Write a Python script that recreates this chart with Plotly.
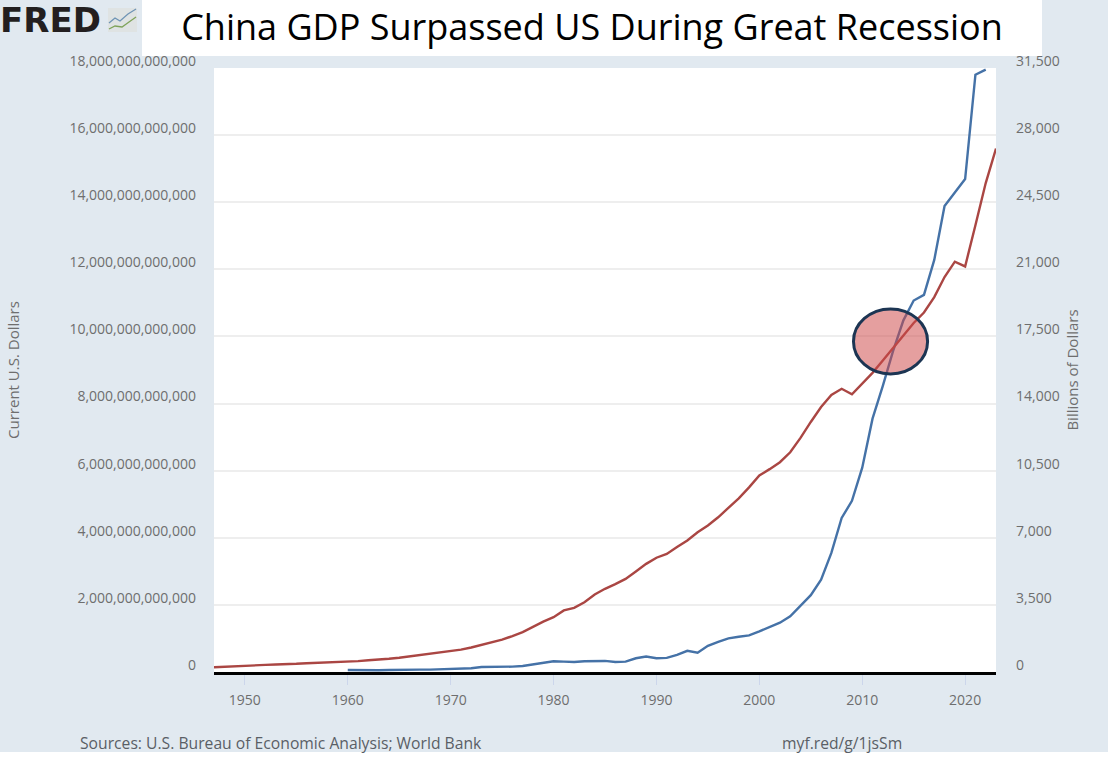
import plotly.graph_objects as go

# US GDP, billions of dollars, right axis
us_years = list(range(1947, 2024))
us_gdp = [
    250, 270, 270, 300, 350, 370, 395, 395, 430, 460,
    480, 490, 530, 545, 565, 610, 640, 690, 745, 815,
    860, 940, 1020, 1075, 1165, 1280, 1425, 1545, 1685, 1875,
    2080, 2350, 2630, 2860, 3210, 3345, 3640, 4040, 4340, 4580,
    4855, 5240, 5640, 5960, 6160, 6520, 6860, 7290, 7640, 8070,
    8580, 9060, 9630, 10250, 10580, 10940, 11460, 12210, 13040, 13820,
    14450, 14770, 14480, 15050, 15600, 16250, 16880, 17550, 18200, 18750,
    19550, 20600, 21400, 21150, 23300, 25500, 27300,
]

# China GDP, current US dollars (trillions here), left axis
china_years = list(range(1960, 2023))
china_gdp = [
    0.06, 0.05, 0.05, 0.05, 0.06, 0.07, 0.08, 0.07, 0.07, 0.08,
    0.09, 0.10, 0.11, 0.15, 0.15, 0.16, 0.16, 0.18, 0.23, 0.28,
    0.32, 0.31, 0.30, 0.32, 0.33, 0.33, 0.30, 0.31, 0.41, 0.46,
    0.41, 0.42, 0.51, 0.63, 0.575, 0.78, 0.90, 1.00, 1.05, 1.09,
    1.21, 1.34, 1.47, 1.66, 1.96, 2.29, 2.75, 3.55, 4.59, 5.10,
    6.09, 7.55, 8.53, 9.57, 10.48, 11.07, 11.24, 12.28, 13.89, 14.28,
    14.69, 17.80, 17.95,
]

left_ticks = [0, 2e12, 4e12, 6e12, 8e12, 10e12, 12e12, 14e12, 16e12, 18e12]
right_ticks = [0, 3500, 7000, 10500, 14000, 17500, 21000, 24500, 28000, 31500]
year_ticks = [1950, 1960, 1970, 1980, 1990, 2000, 2010, 2020]

W, H = 1108, 762
L, R, T, B = 214, 996, 68, 672
BG = "#e1e9f0"
GREY = "#6e6e6e"
FONT = "Open Sans"


def px(x):
    return (x - L) / (R - L)


def py(y):
    return (B - y) / (B - T)


def box(x0, y0, x1, y1, color):
    return dict(type="rect", xref="paper", yref="paper", x0=px(x0), x1=px(x1), y0=py(y0), y1=py(y1),
                fillcolor=color, line_width=0, layer="below")


def zigzag(points):
    return "M " + " L ".join(f"{px(a):.4f},{py(b):.4f}" for a, b in points)


fig = go.Figure()
fig.add_trace(go.Scatter(x=china_years, y=[v * 1e12 for v in china_gdp], mode="lines", yaxis="y",
                         line=dict(color="#4572a7", width=2.4), showlegend=False))
fig.add_trace(go.Scatter(x=us_years, y=us_gdp, mode="lines", yaxis="y2",
                         line=dict(color="#aa4643", width=2.4), showlegend=False))

shapes = [
    box(142, 0, 1042, 56, "white"),
    box(0, 752, W, H, "white"),
    # small logo icon
    box(108, 8, 137, 32, "#dfe3e3"),
    dict(type="path", xref="paper", yref="paper", path=zigzag([(109, 23), (115, 18), (120, 21), (128, 14), (136, 9)]),
         line=dict(color="#6f94b5", width=1.3)),
    dict(type="path", xref="paper", yref="paper", path=zigzag([(109, 29), (115, 26), (122, 27), (129, 22), (136, 17)]),
         line=dict(color="#7fa35a", width=1.3)),
    # highlight around the crossing
    dict(type="circle", xref="x", yref="y", x0=2009.15, x1=2016.35, y0=8.88e12, y1=10.82e12,
         fillcolor="rgba(205,70,70,0.52)", line=dict(color="#1c3553", width=3), layer="above"),
]

annotations = [
    dict(text="<b>FRED</b>", xref="paper", yref="paper", x=px(-2), y=py(20), xanchor="left", yanchor="middle",
         showarrow=False, font=dict(family="DejaVu Sans", size=34, color="#231f20")),
    dict(text="Sources: U.S. Bureau of Economic Analysis; World Bank", xref="paper", yref="paper",
         x=px(78), y=py(743), xanchor="left", yanchor="middle", showarrow=False,
         font=dict(family=FONT, size=15.7, color="#5a5f66")),
    dict(text="myf.red/g/1jsSm", xref="paper", yref="paper", x=px(780), y=py(743), xanchor="left",
         yanchor="middle", showarrow=False, font=dict(family=FONT, size=15.7, color="#5a5f66")),
]

fig.update_layout(
    width=W,
    height=H,
    margin=dict(l=L, r=W - R, t=T, b=H - B, autoexpand=False),
    paper_bgcolor=BG,
    plot_bgcolor="white",
    font=dict(family=FONT, size=13, color=GREY),
    title=dict(text="China GDP Surpassed US During Great Recession", xref="container", yref="container", x=592 / W,
               xanchor="center", y=1 - 27 / H, yanchor="middle", font=dict(family=FONT, size=36, color="#000000")),
    shapes=shapes,
    annotations=annotations,
    showlegend=False,
    xaxis=dict(range=[1947, 2023], tickvals=year_ticks, ticks="outside", ticklen=10, tickwidth=1,
               tickcolor="#ccd6eb", showgrid=False, showline=True, linecolor="black", linewidth=3,
               zeroline=False, ticklabelstandoff=3, tickfont=dict(size=14, color=GREY)),
    yaxis=dict(range=[0, 18e12], tickvals=left_ticks, tickformat=",d", showgrid=True, gridcolor="#eeeeee",
               gridwidth=2, zeroline=False, ticklabelshift=-7, ticklabelstandoff=17,
               tickfont=dict(size=14, color=GREY),
               title=dict(text="Current U.S. Dollars", standoff=46, font=dict(size=15, color=GREY))),
    yaxis2=dict(range=[0, 31500], tickvals=right_ticks, tickformat=",d", overlaying="y", side="right",
                showgrid=False, zeroline=False, ticklabelshift=-7, ticklabelstandoff=19,
                tickfont=dict(size=14, color=GREY),
                title=dict(text="Billions of Dollars", standoff=8, font=dict(size=15, color=GREY))),
)

fig.write_html("out.html", config={"displayModeBar": False}, post_script="document.body.style.margin='0';")
